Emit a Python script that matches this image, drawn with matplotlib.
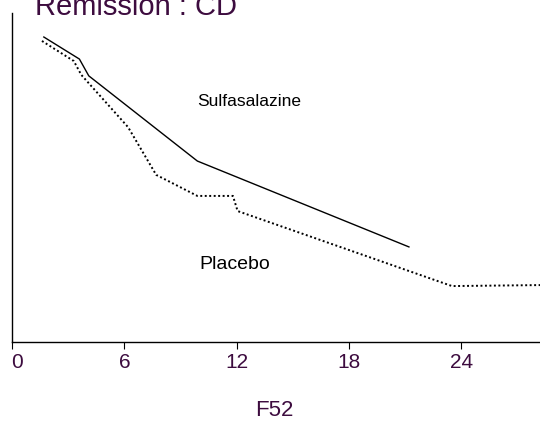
import matplotlib
matplotlib.use("Agg")
import matplotlib.pyplot as plt
from matplotlib.transforms import ScaledTranslation

# time axis (months) and proportion still in remission
sulfa_t = [1.7, 3.6, 4.1, 9.9, 21.2]
sulfa_y = [0.927, 0.860, 0.809, 0.550, 0.289]

placebo_t = [1.6, 3.3, 3.7, 6.2, 7.7, 9.9, 11.8, 12.05, 23.5, 28.2]
placebo_y = [0.915, 0.854, 0.812, 0.653, 0.508, 0.444, 0.444, 0.398, 0.170, 0.173]

xticks = [0, 6, 12, 18, 24]

purple = "#3d0c3f"
plt.rcParams['font.family'] = ['Liberation Sans', 'DejaVu Sans']
narrow = ['Liberation Sans Narrow', 'Liberation Sans']

fig = plt.figure(figsize=(5.4, 4.21), dpi=100)
ax = fig.add_axes([12 / 540, 79 / 421, 1 - 12 / 540, 329 / 421])

ax.plot(sulfa_t, sulfa_y, color="black", lw=1.0)
ax.plot(placebo_t, placebo_y, color="black", lw=1.4, linestyle=(0, (1, 1.3)))

ax.text(9.9, 0.73, "Sulfasalazine", fontsize=12.5, color="black", va="center")
ax.text(10.0, 0.235, "Placebo", fontsize=14, color="black", va="center")

ax.set_xlim(0.05, 28.2)
ax.set_ylim(0, 1)
ax.set_xticks(xticks)
ax.set_xticklabels([str(t) for t in xticks], color=purple, fontsize=15, family=narrow)
ax.tick_params(axis="x", length=5, width=0.8, pad=3)
ax.set_yticks([])
# nudge the "0" label inside the frame
lbl0 = ax.get_xticklabels()[0]
lbl0.set_transform(lbl0.get_transform() + ScaledTranslation(5 / 100, 0, fig.dpi_scale_trans))
for side in ("top", "right"):
    ax.spines[side].set_visible(False)
ax.spines["left"].set_linewidth(1.0)
ax.spines["bottom"].set_linewidth(1.0)

fig.text(274 / 540, 1 - 410 / 421, "F52", color=purple, fontsize=16, family=narrow,
         ha="center", va="center")
fig.text(35 / 540, 1 - 15 / 421, "Remission : CD", color=purple, fontsize=21,
         ha="left", va="baseline")

fig.savefig("out.png", dpi=100)
